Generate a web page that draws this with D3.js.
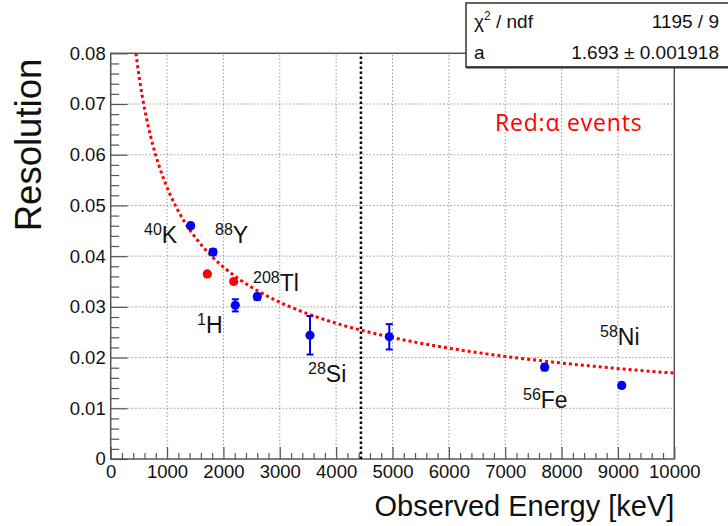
<!DOCTYPE html>
<html><head><meta charset="utf-8">
<script src="https://cdn.jsdelivr.net/npm/d3@7"></script>
<style>
html,body{margin:0;padding:0;background:#fff;}
svg{display:block;font-family:"Liberation Sans",Arial,sans-serif;}
</style></head>
<body>
<svg id="chart" width="728" height="526"></svg>
<script>
// ---- data ----
const blueEnergy = [1419, 1815, 2211, 2601, 3536, 4943, 7700, 9067];
const blueRes    = [0.0460, 0.0408, 0.0303, 0.0320, 0.0244, 0.0241, 0.0181, 0.0145];
const blueErr    = [0.0005, 0.0006, 0.0012, 0.0006, 0.0038, 0.0025, 0.0006, 0.0005];
const redEnergy  = [1714, 2182];
const redRes     = [0.0365, 0.0350];
const labelMass  = ["40", "88", "208", "1", "28", "56", "58"];
const labelElem  = ["K", "Y", "Tl", "H", "Si", "Fe", "Ni"];
const labelE     = [591, 1851, 2525, 1531, 3502, 7316, 8682];
const labelR     = [0.0426, 0.0426, 0.0332, 0.0249, 0.01524, 0.0100, 0.02248];
const fitA = 1.693;          // fit: Resolution = a / sqrt(E)
const fitAErr = 0.001918;
const chi2 = 1195, ndf = 9;
const cutEnergy = 4440;      // dotted vertical line
const xTicks = [0,1000,2000,3000,4000,5000,6000,7000,8000,9000,10000];
const yTicks = [0,0.01,0.02,0.03,0.04,0.05,0.06,0.07,0.08];

// ---- layout ----
const svg = d3.select("#chart");
const X0 = 110.7, X1 = 674.3, Y0 = 459, Y1 = 53.3;
const x = d3.scaleLinear().domain([0,10000]).range([X0,X1]);
const y = d3.scaleLinear().domain([0,0.08]).range([Y0,Y1]);

svg.append("defs").append("clipPath").attr("id","clip")
  .append("rect").attr("x",X0).attr("y",Y1).attr("width",X1-X0).attr("height",Y0-Y1);

// grid
const grid = svg.append("g").attr("stroke","#9a9a9a").attr("stroke-width",1).attr("stroke-dasharray","1.5,2");
grid.selectAll("line.gx").data(xTicks.slice(1,-1)).join("line")
  .attr("x1",d=>x(d)).attr("x2",d=>x(d)).attr("y1",Y0).attr("y2",Y1);
grid.selectAll("line.gy").data(yTicks.slice(1,-1)).join("line")
  .attr("x1",X0).attr("x2",X1).attr("y1",d=>y(d)).attr("y2",d=>y(d));

// axes
const axColor = "#555";
const minorX = d3.range(0,10001,200).filter(v=>v%1000!==0);
const minorY = d3.range(0,81,2).map(v=>v/1000).filter(v=>Math.round(v*1000)%10!==0);

const gx = svg.append("g").attr("transform",`translate(0,${Y0})`)
  .call(d3.axisBottom(x).tickValues(xTicks).tickSizeInner(-12).tickSizeOuter(0).tickPadding(6).tickFormat(d3.format("d")));
gx.select(".domain").remove();
gx.selectAll(".tick line").attr("stroke",axColor).attr("stroke-width",1.2);
gx.selectAll(".tick text").attr("font-size",18.5).attr("fill","#111").attr("font-family","Liberation Sans, Arial, sans-serif");
const gxm = svg.append("g").attr("transform",`translate(0,${Y0})`)
  .call(d3.axisBottom(x).tickValues(minorX).tickSizeInner(-6).tickSizeOuter(0).tickFormat(""));
gxm.select(".domain").remove();
gxm.selectAll(".tick line").attr("stroke",axColor).attr("stroke-width",1.2);

const gy = svg.append("g").attr("transform",`translate(${X0},0)`)
  .call(d3.axisLeft(y).tickValues(yTicks).tickSizeInner(-17).tickSizeOuter(0).tickPadding(5)
    .tickFormat(d=>d===0?"0":d3.format(".2f")(d)));
gy.select(".domain").remove();
gy.selectAll(".tick line").attr("stroke",axColor).attr("stroke-width",1.2);
gy.selectAll(".tick text").attr("font-size",18.5).attr("fill","#111").attr("font-family","Liberation Sans, Arial, sans-serif");
const gym = svg.append("g").attr("transform",`translate(${X0},0)`)
  .call(d3.axisLeft(y).tickValues(minorY).tickSizeInner(-8.5).tickSizeOuter(0).tickFormat(""));
gym.select(".domain").remove();
gym.selectAll(".tick line").attr("stroke",axColor).attr("stroke-width",1.2);

// frame
svg.append("rect").attr("x",X0).attr("y",Y1).attr("width",X1-X0).attr("height",Y0-Y1)
  .attr("fill","none").attr("stroke",axColor).attr("stroke-width",1.5);

// dotted vertical line
svg.append("line").attr("x1",x(cutEnergy)).attr("x2",x(cutEnergy)).attr("y1",Y0).attr("y2",Y1)
  .attr("stroke","#000").attr("stroke-width",2.5).attr("stroke-dasharray","2.5,2.5");

// fit curve
const eStart = Math.pow(fitA/0.08,2);
const fitE = d3.range(0,201).map(i=>eStart+(10000-eStart)*Math.pow(i/200,1.6));
svg.append("path").attr("clip-path","url(#clip)")
  .datum(fitE)
  .attr("d",d3.line().x(e=>x(e)).y(e=>y(fitA/Math.sqrt(e))))
  .attr("fill","none").attr("stroke","#ff0000").attr("stroke-width",3).attr("stroke-dasharray","3,3");

// error bars (blue)
const eb = svg.append("g").attr("stroke","#0000ff").attr("stroke-width",2);
blueEnergy.forEach((e,i)=>{
  const xe = x(e), yt = y(blueRes[i]+blueErr[i]), yb = y(blueRes[i]-blueErr[i]);
  eb.append("line").attr("x1",xe).attr("x2",xe).attr("y1",yt).attr("y2",yb);
  eb.append("line").attr("x1",xe-3.5).attr("x2",xe+3.5).attr("y1",yt).attr("y2",yt);
  eb.append("line").attr("x1",xe-3.5).attr("x2",xe+3.5).attr("y1",yb).attr("y2",yb);
});
// points
svg.append("g").selectAll("circle").data(blueEnergy).join("circle")
  .attr("cx",d=>x(d)).attr("cy",(d,i)=>y(blueRes[i])).attr("r",4.6).attr("fill","#0000ff");
svg.append("g").selectAll("circle").data(redEnergy).join("circle")
  .attr("cx",d=>x(d)).attr("cy",(d,i)=>y(redRes[i])).attr("r",4.6).attr("fill","#ff0000");

// isotope labels
labelElem.forEach((el,i)=>{
  const t = svg.append("text").attr("x",x(labelE[i])).attr("y",y(labelR[i]))
    .attr("font-size",23).attr("fill","#111");
  t.append("tspan").attr("font-size",16).attr("dy",-8).text(labelMass[i]);
  t.append("tspan").attr("dy",8).text(el);
});

// red annotation
svg.append("text").attr("x",495).attr("y",131).attr("fill","#ff0000")
  .attr("font-family","Open Sans, Lato, sans-serif").attr("font-size",23)
  .attr("letter-spacing",0.8).text("Red:α events");

// axis titles
svg.append("text").attr("x",X1).attr("y",516).attr("text-anchor","end")
  .attr("font-size",29).attr("fill","#111").text("Observed Energy [keV]");
svg.append("text").attr("transform","translate(41,145) rotate(-90)").attr("text-anchor","middle")
  .attr("font-size",36.5).attr("fill","#111").text("Resolution");

// stats box
const box = svg.append("g");
box.append("rect").attr("x",466).attr("y",3).attr("width",270).attr("height",64)
  .attr("fill","#fff").attr("stroke","#333").attr("stroke-width",1.5);
box.append("line").attr("x1",466).attr("x2",728).attr("y1",67.5).attr("y2",67.5).attr("stroke","#333").attr("stroke-width",2);
const bt = box.append("g").attr("font-size",19).attr("fill","#111");
const t1 = bt.append("text").attr("x",474).attr("y",28);
t1.append("tspan").text("χ");
t1.append("tspan").attr("font-size",12).attr("dy",-8).text("2");
t1.append("tspan").attr("dy",8).text(" / ndf");
bt.append("text").attr("x",719).attr("y",28).attr("text-anchor","end").text(`${chi2} / ${ndf}`);
bt.append("text").attr("x",474).attr("y",59).text("a");
bt.append("text").attr("x",719).attr("y",59).attr("text-anchor","end").text(`${fitA} ± ${fitAErr}`);
</script>
</body></html>
